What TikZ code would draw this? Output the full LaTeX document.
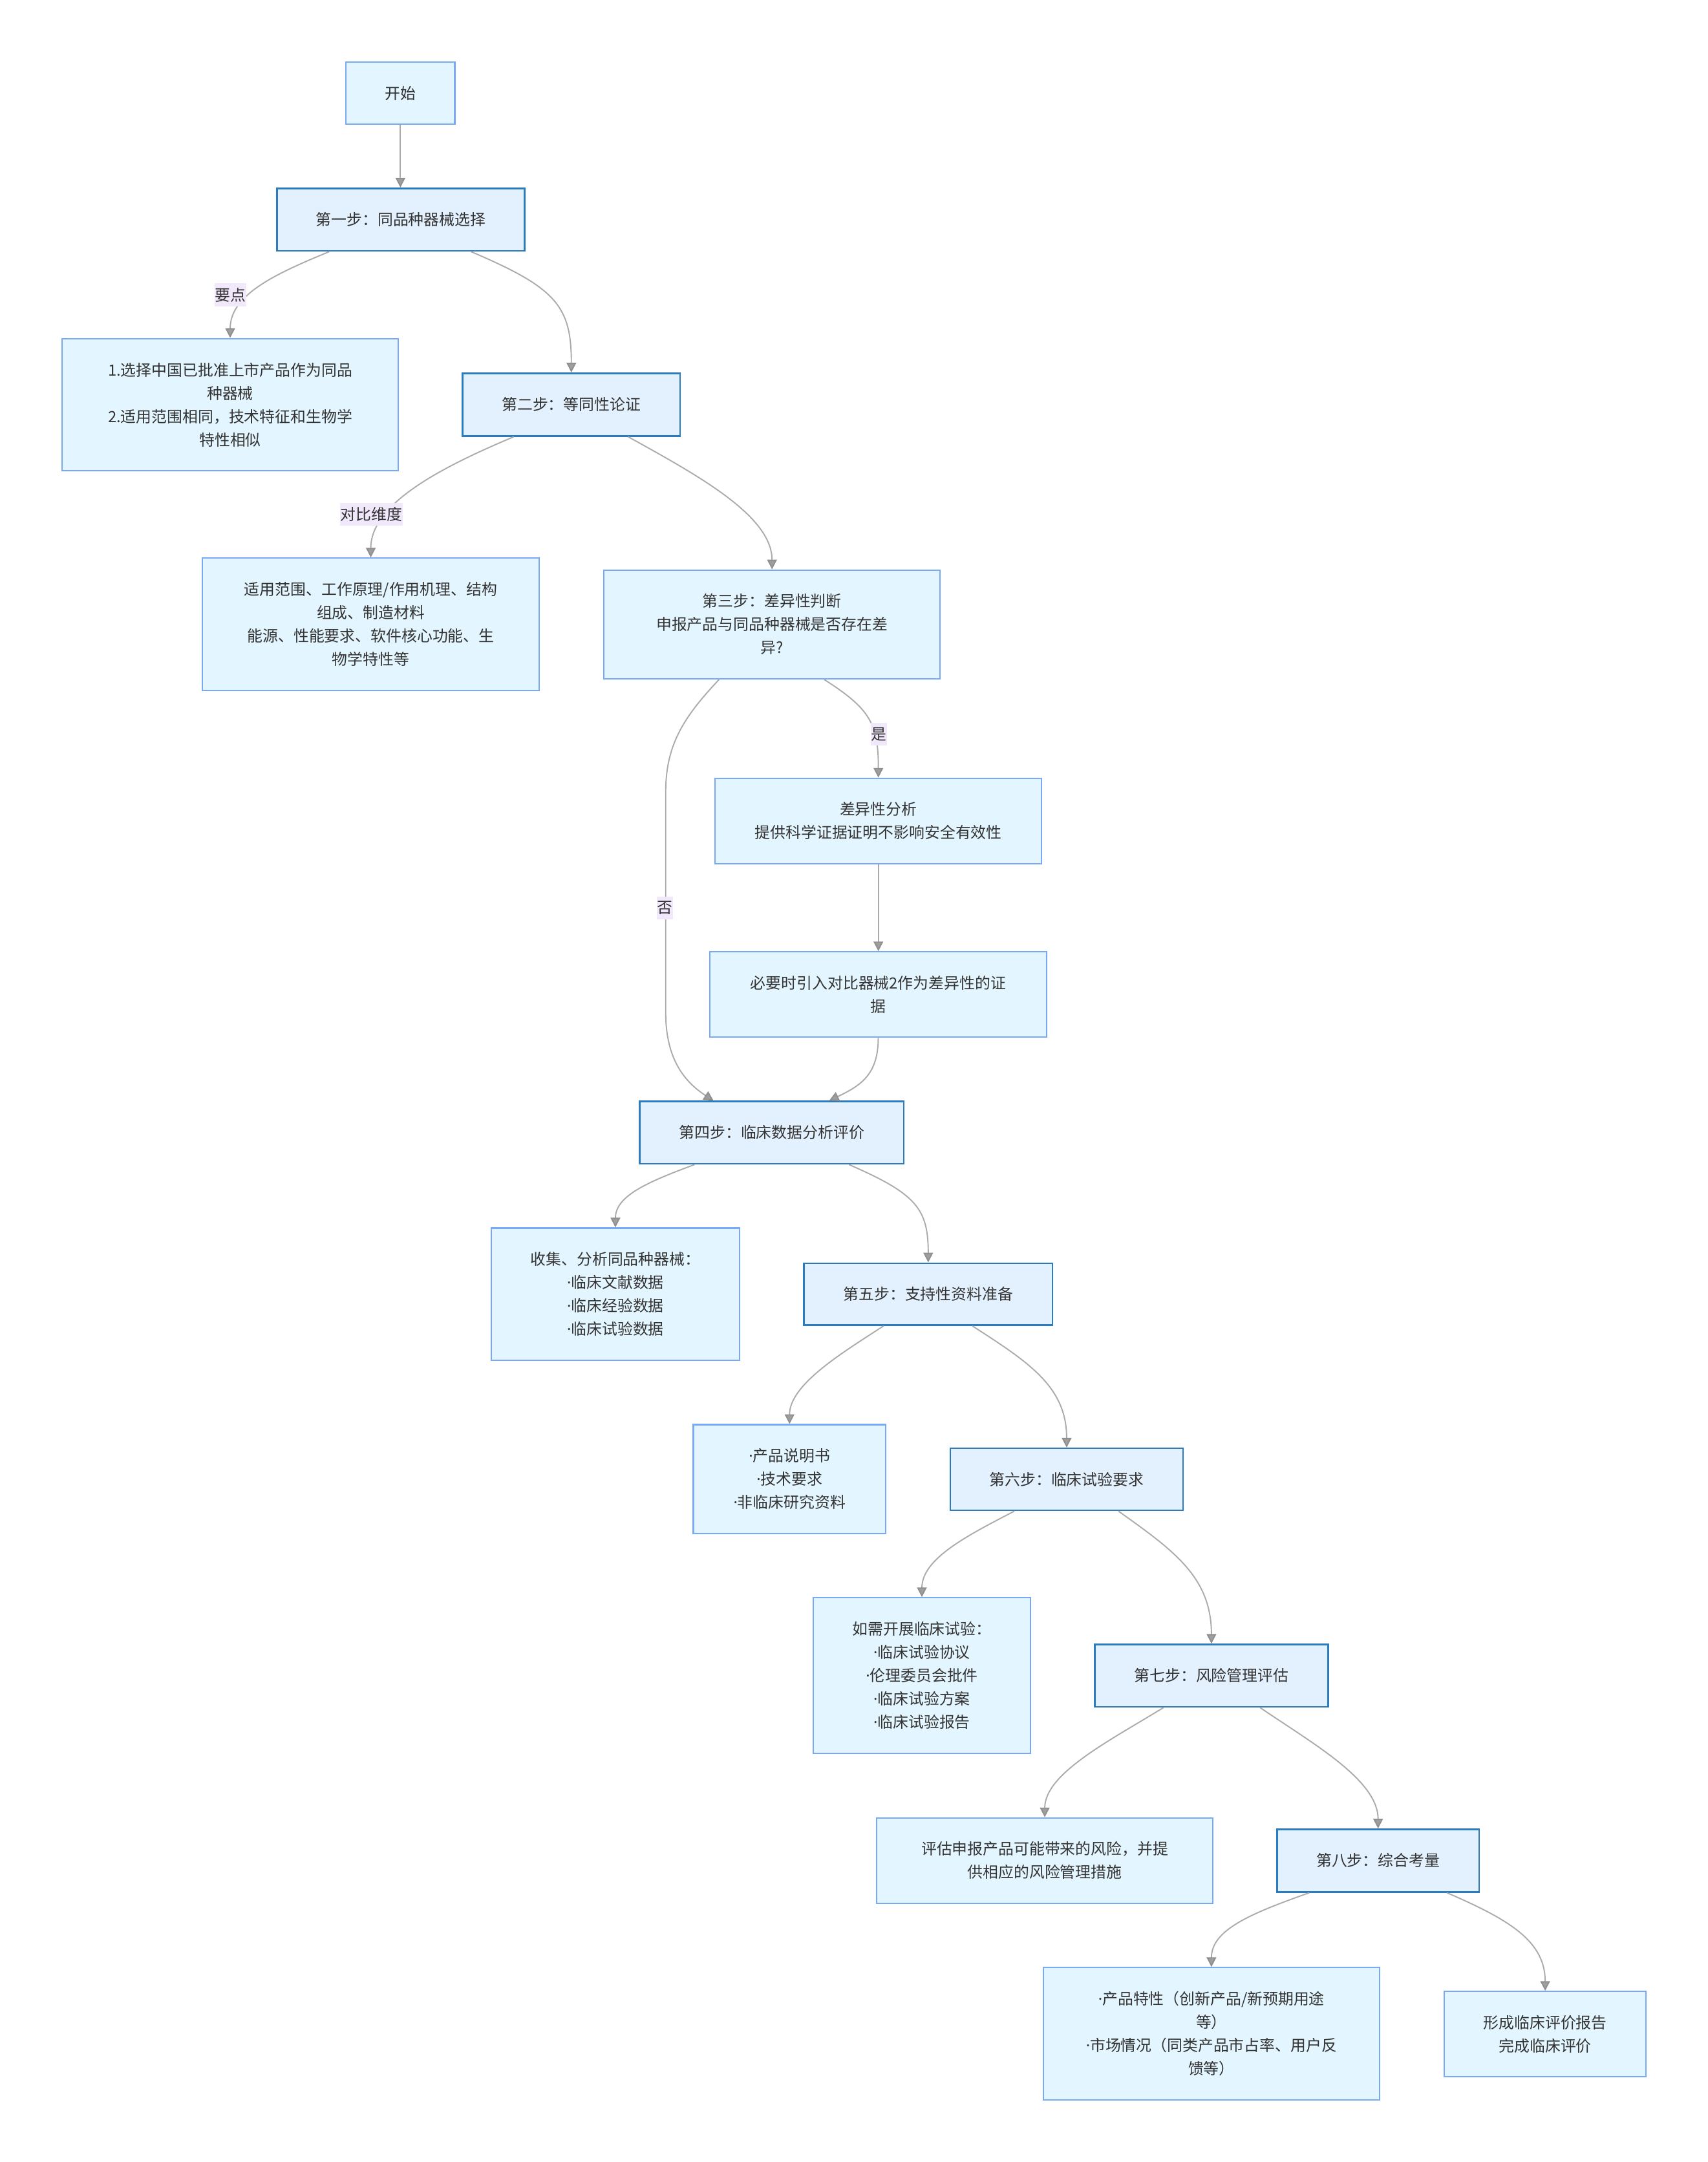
\documentclass[tikz,border=0pt]{standalone}
\usepackage{fontspec}
\setmainfont{Noto Sans CJK SC}
\newfontfamily\dotfont{Noto Sans}
\newcommand\bdot{{\dotfont ·}}
\usetikzlibrary{arrows.meta,calc}

\definecolor{stepfill}{HTML}{E3F0FD}
\definecolor{stepdraw}{HTML}{2B7BBF}
\definecolor{boxfill}{HTML}{E3F5FE}
\definecolor{boxdraw}{HTML}{79A8F6}
\definecolor{edgec}{HTML}{ABABAB}
\definecolor{arrowc}{HTML}{9E9E9E}
\definecolor{arrowd}{HTML}{8F8F8F}
\definecolor{lblfill}{HTML}{F1E8FC}
\definecolor{txt}{HTML}{333333}

\tikzset{
  nbase/.style={rectangle, align=center, inner sep=0pt, text=txt,
    font=\fontsize{11.2}{16.9}\selectfont},
  stepbox/.style={nbase, draw=stepdraw, fill=stepfill, line width=1.2pt},
  infobox/.style={nbase, draw=boxdraw, fill=boxfill, line width=1pt},
  lbl/.style={nbase, fill=lblfill, minimum height=16.5pt, inner xsep=0.3pt},
  conn/.style={draw=edgec, line width=0.9pt,
    -{Triangle[length=7pt,width=7pt,fill=arrowc,color=arrowd]}},
}

\newcommand\curvec[5]{%
  \draw[conn] let \p1=#1, \p2=#2 in (\p1) .. controls
    ({\x1+#3*(\x2-\x1)},{\y1+#4*(\y2-\y1)}) and
    ({\x2},{\y1+#5*(\y2-\y1)}) .. (\p2);}

\begin{document}
\begin{tikzpicture}[x=1pt,y=-1pt]
\fill[white] (0,0) rectangle (1240,1569.5);
\useasboundingbox (0,0) rectangle (1240,1569.5);

% nodes
\node[infobox, minimum width=79pt, minimum height=45pt] (start) at (290.7,67.6) {开始};
\node[stepbox, minimum width=180pt, minimum height=45.4pt] (s1) at (291,159.4) {第一步：同品种器械选择};
\node[infobox, minimum width=244pt, minimum height=96pt] (b1) at (167.1,293.8)
  {1.选择中国已批准上市产品作为同品\\种器械\\2.适用范围相同，技术特征和生物学\\特性相似};
\node[stepbox, minimum width=158pt, minimum height=45.5pt] (s2) at (414.8,293.7) {第二步：等同性论证};
\node[infobox, minimum width=244.5pt, minimum height=96pt] (b2) at (269.2,453.2)
  {适用范围、工作原理/作用机理、结构\\组成、制造材料\\能源、性能要求、软件核心功能、生\\物学特性等};
\node[infobox, minimum width=244pt, minimum height=79pt] (s3) at (560.5,453.3)
  {第三步：差异性判断\\申报产品与同品种器械是否存在差\\异?};
\node[infobox, minimum width=237pt, minimum height=62pt] (dA) at (637.7,596)
  {差异性分析\\提供科学证据证明不影响安全有效性};
\node[infobox, minimum width=244.5pt, minimum height=62pt] (dB) at (637.6,722)
  {必要时引入对比器械2作为差异性的证\\据};
\node[stepbox, minimum width=191.7pt, minimum height=45.2pt] (s4) at (560.3,822.2) {第四步：临床数据分析评价};
\node[infobox, minimum width=180.5pt, minimum height=96pt] (c4) at (446.8,939.5)
  {收集、分析同品种器械：\\\bdot 临床文献数据\\\bdot 临床经验数据\\\bdot 临床试验数据};
\node[stepbox, minimum width=180.4pt, minimum height=45pt] (s5) at (673.9,939.5) {第五步：支持性资料准备};
\node[infobox, minimum width=139.6pt, minimum height=79pt] (c5) at (573.2,1073.7)
  {\bdot 产品说明书\\\bdot 技术要求\\\bdot 非临床研究资料};
\node[stepbox, minimum width=169pt, minimum height=45pt] (s6) at (774.4,1073.9) {第六步：临床试验要求};
\node[infobox, minimum width=158pt, minimum height=113pt] (c6) at (669.3,1216.4)
  {如需开展临床试验：\\\bdot 临床试验协议\\\bdot 伦理委员会批件\\\bdot 临床试验方案\\\bdot 临床试验报告};
\node[stepbox, minimum width=169.3pt, minimum height=45.2pt] (s7) at (879.5,1216.4) {第七步：风险管理评估};
\node[infobox, minimum width=244pt, minimum height=62pt] (c7) at (758.5,1350.7)
  {评估申报产品可能带来的风险，并提\\供相应的风险管理措施};
\node[stepbox, minimum width=146.7pt, minimum height=45.5pt] (s8) at (1000.5,1350.7) {第八步：综合考量};
\node[infobox, minimum width=244pt, minimum height=96pt] (c8) at (879.5,1476.4)
  {\bdot 产品特性（创新产品/新预期用途\\等）\\\bdot 市场情况（同类产品市占率、用户反\\馈等）};
\node[infobox, minimum width=146.4pt, minimum height=62pt] (c9) at (1121.8,1476.7)
  {形成临床评价报告\\完成临床评价};

% connectors
\draw[conn] (start.south) -- (start.south |- s1.north);
\curvec{([xshift=-52pt]s1.south)}{(b1.north)}{0.55}{0.26}{0.5}
\curvec{([xshift=51pt]s1.south)}{(s2.north)}{0.85}{0.3}{0.45}
\curvec{([xshift=-41.8pt]s2.south)}{(b2.north)}{0.5}{0.25}{0.55}
\curvec{([xshift=41.2pt]s2.south)}{(s3.north)}{0.5}{0.3}{0.6}
\curvec{([xshift=37.9pt]s3.south)}{(dA.north)}{0.85}{0.3}{0.45}
\draw[conn] let \p1=([xshift=-38.5pt]s3.south), \p2=([xshift=-42.3pt]s4.north) in
  (\p1) .. controls (497,520) and (483.3,540) .. (483.3,575) -- (483.3,735)
  .. controls (483.3,770) and (498,786) .. (\p2);
\draw[conn] (dA.south) -- (dA.south |- dB.north);
\draw[conn] let \p1=(dB.south), \p2=([xshift=41.7pt]s4.north) in
  (\p1) .. controls (637.6,780) and (625,788) .. (\p2);
\curvec{([xshift=-56pt]s4.south)}{(c4.north)}{0.6}{0.28}{0.5}
\curvec{([xshift=56pt]s4.south)}{(s5.north)}{0.85}{0.3}{0.45}
\curvec{([xshift=-32.5pt]s5.south)}{(c5.north)}{0.45}{0.28}{0.6}
\curvec{([xshift=32.1pt]s5.south)}{(s6.north)}{0.6}{0.3}{0.5}
\curvec{([xshift=-38pt]s6.south)}{(c6.north)}{0.5}{0.28}{0.55}
\curvec{([xshift=37.6pt]s6.south)}{(s7.north)}{0.6}{0.3}{0.5}
\curvec{([xshift=-34.8pt]s7.south)}{(c7.north)}{0.45}{0.3}{0.6}
\curvec{([xshift=35.3pt]s7.south)}{(s8.north)}{0.45}{0.3}{0.6}
\curvec{([xshift=-50pt]s8.south)}{(c8.north)}{0.6}{0.28}{0.5}
\curvec{([xshift=50pt]s8.south)}{(c9.north)}{0.65}{0.28}{0.5}

% edge labels
\node[lbl] (l1) at (167.2,214) {要点};
\node[lbl] (l2) at (269.5,373.5) {对比维度};
\node[lbl] (l3) at (638,533) {是};
\node[lbl] (l4) at (482.9,659) {否};
\end{tikzpicture}
\end{document}
